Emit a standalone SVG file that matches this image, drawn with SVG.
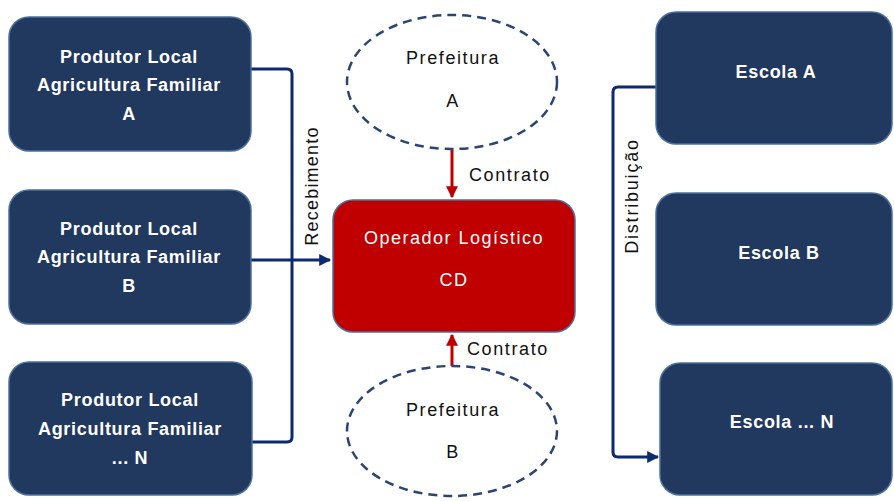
<svg xmlns="http://www.w3.org/2000/svg" width="894" height="501" viewBox="0 0 894 501">
<defs>
<style>
.box{fill:#21385f;stroke:#4a6f9c;stroke-width:1.5}
.cd{fill:#c00000;stroke:#4a6f9c;stroke-width:1.5}
.ell{fill:none;stroke:#2b4573;stroke-width:2.5;stroke-dasharray:9 6}
.wt{fill:#ffffff;font-family:"Liberation Sans",Arial,sans-serif;font-size:18px;font-weight:bold;text-anchor:middle;letter-spacing:0.7px}
.ct{fill:#ffffff;font-family:"Liberation Sans",Arial,sans-serif;font-size:18px;text-anchor:middle;letter-spacing:1.5px}
.bt{fill:#111111;font-family:"Liberation Sans",Arial,sans-serif;font-size:18px;text-anchor:middle;letter-spacing:1.6px}
.lt{fill:#111111;font-family:"Liberation Sans",Arial,sans-serif;font-size:18px}
.nav{fill:none;stroke:#0d2a6e;stroke-width:3}
.red{fill:none;stroke:#c00000;stroke-width:3}
</style>
<marker id="an" viewBox="0 0 10 10" refX="9" refY="5" markerWidth="4" markerHeight="4" orient="auto" markerUnits="strokeWidth"><path d="M0,0 L10,5 L0,10 z" fill="#0d2a6e"/></marker>
<marker id="ar" viewBox="0 0 10 10" refX="9" refY="5" markerWidth="4" markerHeight="4" orient="auto" markerUnits="strokeWidth"><path d="M0,0 L10,5 L0,10 z" fill="#c00000"/></marker>
</defs>
<rect width="894" height="501" fill="#ffffff"/>
<g id="connectors">
<path class="nav" d="M251,69 L287,69 Q292,69 292,74 L292,437 Q292,442 287,442 L251,442"/>
<path class="nav" d="M251,260 L330,260" marker-end="url(#an)"/>
<path class="nav" d="M656,87 L618,87 Q613,87 613,92 L613,452 Q613,457 618,457 L658,457" marker-end="url(#an)"/>
<path class="red" d="M452,150 L452,197" marker-end="url(#ar)"/>
<path class="red" d="M452,366 L452,335" marker-end="url(#ar)"/>
<text class="lt" transform="translate(318,186) rotate(-90)" text-anchor="middle" letter-spacing="1.2">Recebimento</text>
<text class="lt" transform="translate(638,196) rotate(-90)" text-anchor="middle" letter-spacing="1.8">Distribuição</text>
<text class="lt" x="469" y="181" letter-spacing="1.6">Contrato</text>
<text class="lt" x="467" y="355" letter-spacing="1.6">Contrato</text>
</g>
<g id="produtorA"><rect class="box" x="9" y="17" width="242" height="134" rx="20"/><text class="wt" x="129" y="63">Produtor Local</text><text class="wt" x="129" y="91">Agricultura Familiar</text><text class="wt" x="129" y="120">A</text></g>
<g id="produtorB"><rect class="box" x="9" y="190" width="242" height="134" rx="20"/><text class="wt" x="129" y="235">Produtor Local</text><text class="wt" x="129" y="263">Agricultura Familiar</text><text class="wt" x="129" y="292">B</text></g>
<g id="produtorN"><rect class="box" x="9" y="362" width="243" height="133" rx="20"/><text class="wt" x="130" y="406">Produtor Local</text><text class="wt" x="130" y="435">Agricultura Familiar</text><text class="wt" x="130" y="464">... N</text></g>
<g id="operador"><rect class="cd" x="333" y="200" width="242" height="132" rx="20"/><text class="ct" x="454" y="244">Operador Logístico</text><text class="ct" x="454" y="286">CD</text></g>
<g id="prefeituraA"><ellipse class="ell" cx="452" cy="82" rx="105" ry="67"/><text class="bt" x="453" y="64">Prefeitura</text><text class="bt" x="453" y="107">A</text></g>
<g id="prefeituraB"><ellipse class="ell" cx="452" cy="431" rx="105" ry="65"/><text class="bt" x="453" y="416">Prefeitura</text><text class="bt" x="453" y="458">B</text></g>
<g id="escolaA"><rect class="box" x="656" y="12" width="236" height="132" rx="20"/><text class="wt" x="776" y="78">Escola A</text></g>
<g id="escolaB"><rect class="box" x="656" y="193" width="236" height="132" rx="20"/><text class="wt" x="779" y="259">Escola B</text></g>
<g id="escolaN"><rect class="box" x="660" y="363" width="232" height="132" rx="20"/><text class="wt" x="782" y="428">Escola ... N</text></g>
</svg>
